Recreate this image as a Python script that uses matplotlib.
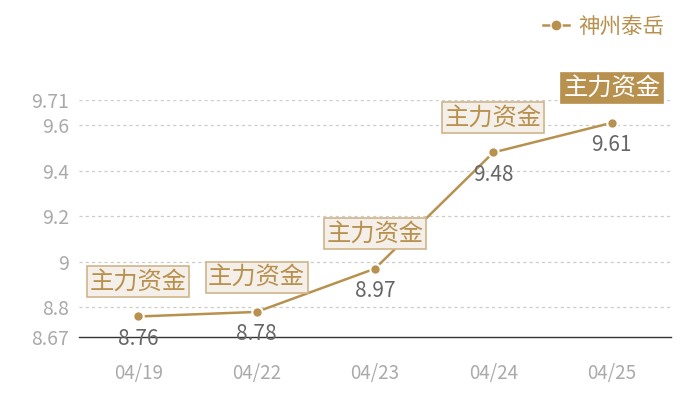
import matplotlib
matplotlib.use("Agg")
import matplotlib.pyplot as plt
from matplotlib.lines import Line2D

plt.rcParams['font.family'] = ['Noto Sans CJK SC', 'DejaVu Sans']

dates = ["04/19", "04/22", "04/23", "04/24", "04/25"]
values = [8.76, 8.78, 8.97, 9.48, 9.61]
yticks = [8.67, 8.8, 9.0, 9.2, 9.4, 9.6, 9.71]
ytick_labels = ["8.67", "8.8", "9", "9.2", "9.4", "9.6", "9.71"]
series_name = "神州泰岳"
note = "主力资金"

gold = "#b8914f"
fig = plt.figure(figsize=(7, 4), dpi=100)
ax = fig.add_axes([79/700, 63/400, 592/700, 237/400])

x = list(range(len(dates)))
ax.plot(x, values, color=gold, lw=1.8, marker='o', markersize=7.5,
        markerfacecolor=gold, markeredgecolor='white', markeredgewidth=1.5, zorder=3)

ax.set_xlim(-0.5, len(dates) - 0.5)
ax.set_ylim(8.67, 9.71)
ax.set_yticks(yticks)
ax.set_yticklabels(ytick_labels)
ax.set_xticks(x)
ax.set_xticklabels(dates)
ax.tick_params(axis='y', length=0, pad=7, labelsize=14, labelcolor='#aaaaaa')
ax.tick_params(axis='x', length=0, pad=19, labelsize=13.5, labelcolor='#aaaaaa')
for t in yticks[1:]:
    ax.axhline(t, color='#cccccc', lw=0.9, ls=(0, (2.5, 2.5)), zorder=1)
for s in ['top', 'right', 'left']:
    ax.spines[s].set_visible(False)
ax.spines['bottom'].set_color('#333333')
ax.spines['bottom'].set_linewidth(1)

for i, v in enumerate(values):
    ax.annotate(f"{v:.2f}", (i, v), xytext=(0, -16), textcoords='offset points',
                ha='center', va='center', fontsize=15, color='#666666', zorder=4)
    last = (i == len(values) - 1)
    ax.annotate(note, (i, v), xytext=(0, 25), textcoords='offset points',
                ha='center', va='center', fontsize=17.5,
                color='white' if last else gold, zorder=5,
                bbox=dict(boxstyle='square,pad=0.1',
                          facecolor=gold if last else '#f4f0e9',
                          edgecolor='#cfb58a' if not last else gold, lw=1.2))

handle = Line2D([0], [0], color=gold, lw=1.8, marker='o', markersize=8,
                markerfacecolor=gold, markeredgecolor='white', markeredgewidth=1.0)
leg = fig.legend([handle], [series_name], loc='upper right', bbox_to_anchor=(0.976, 1.01),
                 frameon=False, fontsize=15.5, handlelength=1.2, handletextpad=0.4,
                 labelcolor=gold)

fig.savefig("out.png", dpi=100)
